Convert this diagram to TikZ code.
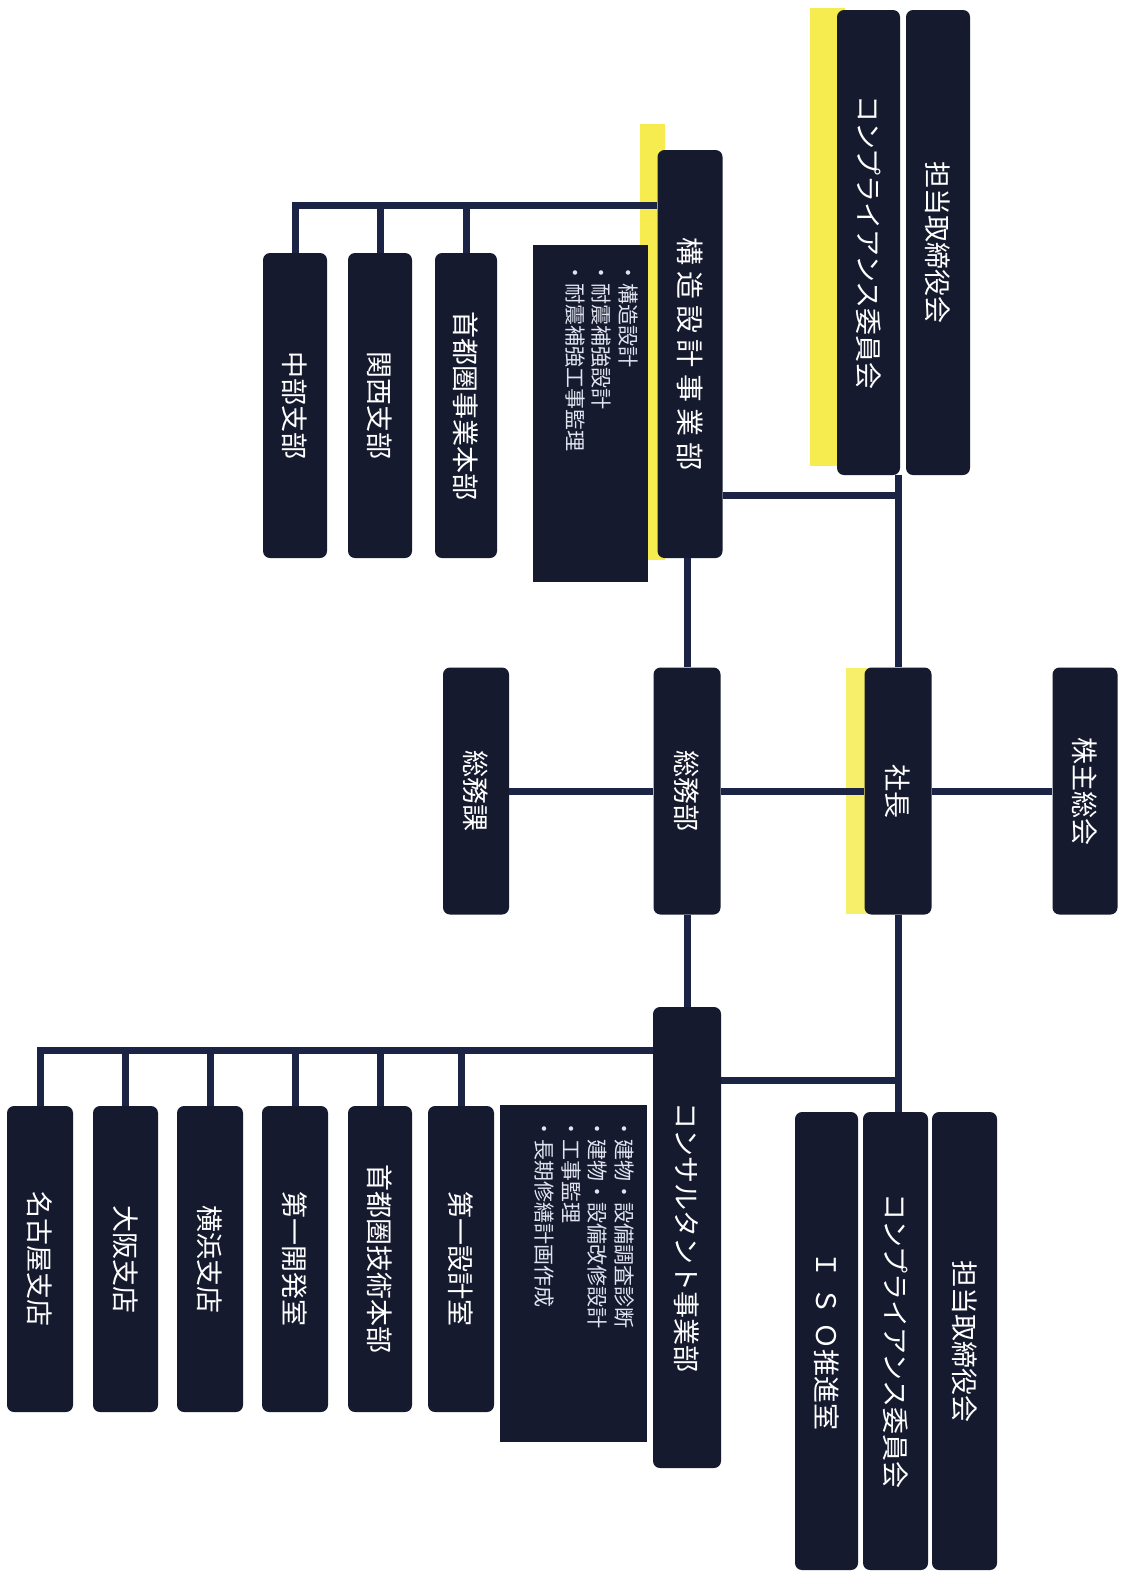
\documentclass[tikz,border=0pt]{standalone}
\usepackage{fontspec}
\setmainfont{Noto Sans CJK JP}
\newfontfamily\widecjk[LetterSpace=22]{Noto Sans CJK JP}
\usetikzlibrary{calc}
\definecolor{boxfill}{RGB}{21,26,46}
\definecolor{linecol}{RGB}{28,36,70}
\definecolor{hlyellow}{RGB}{246,236,80}
\definecolor{desctext}{RGB}{225,228,240}
\begin{document}
\begin{tikzpicture}[x=1pt,y=-1pt,
  orgbox/.style={fill=boxfill, rounded corners=7pt, rotate=-90, text=white,
    font=\fontsize{27}{32}\selectfont, inner sep=0pt},
  boxlen/.style={minimum width=#1},
  boxwid/.style={minimum height=#1},
  descbox/.style={fill=boxfill, inner sep=0pt},
  desctxt/.style={rotate=-90, anchor=north west, align=left, text=desctext,
    inner sep=0pt, font=\fontsize{21}{26.5}\selectfont},
  conn/.style={draw=linecol, line width=7pt}
]
\useasboundingbox (0,0) rectangle (1128,1572);
\fill[white] (0,0) rectangle (1128,1572);

% yellow highlights
\fill[hlyellow] (810,8) rectangle (845,466);
\fill[hlyellow] (640,124) rectangle (665,560);
\fill[hlyellow!85] (846,668) rectangle (870,914);

% top group
\node[orgbox, boxlen=465pt, boxwid=64pt] (tt1) at (938,242.5) {担当取締役会};
\node[orgbox, boxlen=465pt, boxwid=63pt] (cp1) at (868.5,242.5) {コンプライアンス委員会};
\node[orgbox, boxlen=408pt, boxwid=65pt, font=\widecjk\fontsize{28}{32}\selectfont] (kozo) at (690,354) {構造設計事業部};
\node[descbox, minimum width=115pt, minimum height=337pt] (desc1) at (590.5,413.5) {};
\node[desctxt] (desc1t) at (638,262) {・構造設計\\・耐震補強設計\\・耐震補強工事監理};
\node[orgbox, boxlen=305pt, boxwid=62pt] (shuto1) at (466,405.5) {首都圏事業本部};
\node[orgbox, boxlen=305pt, boxwid=64pt] (kansai) at (380,405.5) {関西支部};
\node[orgbox, boxlen=305pt, boxwid=64pt] (chubu) at (295,405.5) {中部支部};

% middle row
\node[orgbox, boxlen=247pt, boxwid=65pt] (kabunushi) at (1085,791) {株主総会};
\node[orgbox, boxlen=247pt, boxwid=67pt] (shacho) at (898,791) {社長};
\node[orgbox, boxlen=247pt, boxwid=67pt] (somubu) at (687,791) {総務部};
\node[orgbox, boxlen=247pt, boxwid=66pt] (somuka) at (476,791) {総務課};

% bottom group
\node[orgbox, boxlen=458pt, boxwid=65pt] (tt2) at (964.5,1341) {担当取締役会};
\node[orgbox, boxlen=458pt, boxwid=65pt] (cp2) at (895.5,1341) {コンプライアンス委員会};
\node[orgbox, boxlen=458pt, boxwid=63pt] (iso) at (826.5,1341) {Ｉ\hspace{9pt}Ｓ\hspace{9pt}Ｏ推進室};
\node[orgbox, boxlen=461pt, boxwid=68pt] (consult) at (687,1237.5) {コンサルタント事業部};
\node[descbox, minimum width=147pt, minimum height=337pt] (desc2) at (573.5,1273.5) {};
\node[desctxt] (desc2t) at (634,1118) {・建物・設備調査診断\\・建物・設備改修設計\\・工事監理\\・長期修繕計画作成};
\node[orgbox, boxlen=306pt, boxwid=66pt] (dai1) at (461,1259) {第一設計室};
\node[orgbox, boxlen=306pt, boxwid=64pt] (shuto2) at (380,1259) {首都圏技術本部};
\node[orgbox, boxlen=306pt, boxwid=66pt] (kaihatsu) at (295,1259) {第一開発室};
\node[orgbox, boxlen=306pt, boxwid=66pt] (yokohama) at (210,1259) {横浜支店};
\node[orgbox, boxlen=306pt, boxwid=65pt] (osaka) at (125.5,1259) {大阪支店};
\node[orgbox, boxlen=306pt, boxwid=66pt] (nagoya) at (40,1259) {名古屋支店};

% junctions
\coordinate (jK) at (898,495);
\coordinate (jC) at (898,1080);
\coordinate (jT) at (295,205);
\coordinate (jB) at (40,1050);

% connectors
\draw[conn] (shacho.west |- cp1.east) -- (shacho.west);
\draw[conn] (kozo.north |- jK) -- (jK);
\draw[conn] (shacho.east) -- (shacho.east |- cp2.west);
\draw[conn] (consult.north |- jC) -- (jC);
\draw[conn] (kabunushi.south) -- (shacho.north);
\draw[conn] (shacho.south) -- (somubu.north);
\draw[conn] (somubu.south) -- (somuka.north);
\draw[conn] (somubu.west |- kozo.east) -- (somubu.west);
\draw[conn] (somubu.east) -- (consult.west);
\draw[conn] (kozo.south |- jT) -- (jT) -- (chubu.west);
\draw[conn] (kansai.west |- jT) -- (kansai.west);
\draw[conn] (shuto1.west |- jT) -- (shuto1.west);
\draw[conn] (consult.south |- jB) -- (jB) -- (nagoya.west);
\draw[conn] (osaka.west |- jB) -- (osaka.west);
\draw[conn] (yokohama.west |- jB) -- (yokohama.west);
\draw[conn] (kaihatsu.west |- jB) -- (kaihatsu.west);
\draw[conn] (shuto2.west |- jB) -- (shuto2.west);
\draw[conn] (dai1.west |- jB) -- (dai1.west);
\end{tikzpicture}
\end{document}
